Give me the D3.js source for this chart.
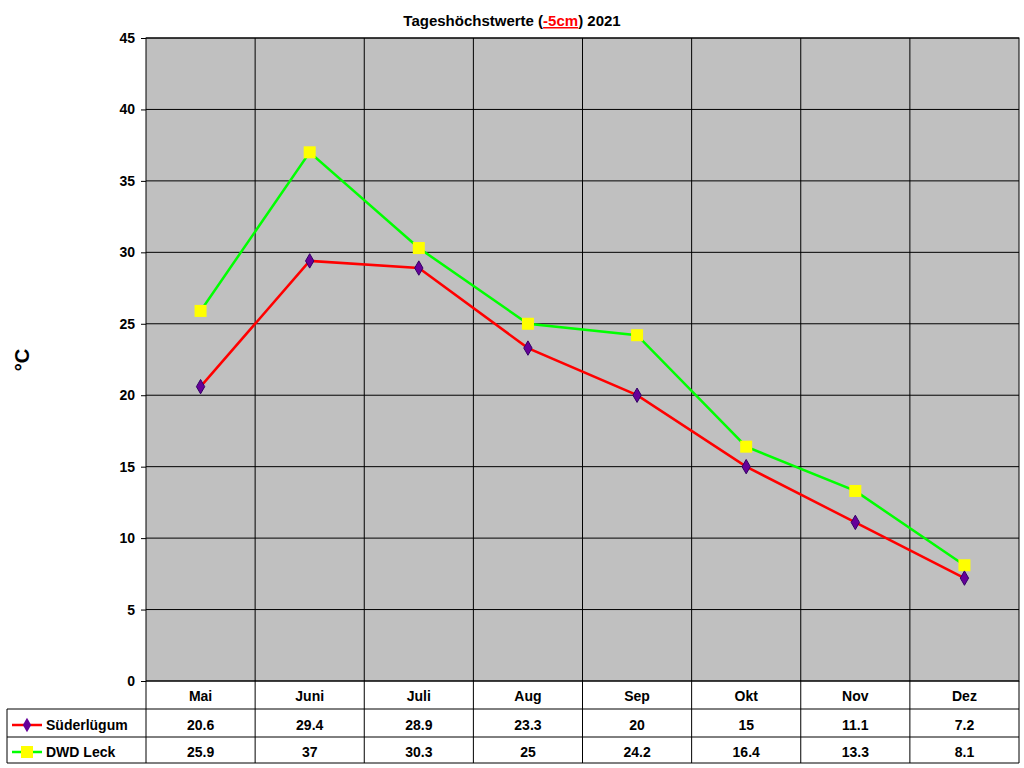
<!DOCTYPE html>
<html><head><meta charset="utf-8">
<script src="https://cdn.jsdelivr.net/npm/d3@7"></script>
<style>body{margin:0;background:#fff}text{font-family:Arial,"Liberation Sans",sans-serif;font-weight:bold}</style>
</head><body>
<svg id="chart" width="1024" height="768"></svg>
<script>
// data
const months = ["Mai","Juni","Juli","Aug","Sep","Okt","Nov","Dez"];
const suederluegum = [20.6, 29.4, 28.9, 23.3, 20, 15, 11.1, 7.2];
const dwdLeck = [25.9, 37, 30.3, 25, 24.2, 16.4, 13.3, 8.1];
const yTicks = [0,5,10,15,20,25,30,35,40,45];

const svg = d3.select("#chart");
const plotLeft = 146, plotRight = 1019, plotTop = 38, plotBottom = 681;

const x = d3.scaleBand().domain(months).range([plotLeft, plotRight]);
const y = d3.scaleLinear().domain([0, 45]).range([plotBottom, plotTop]);

// plot background
svg.append("rect").attr("x", plotLeft).attr("y", plotTop)
  .attr("width", plotRight - plotLeft).attr("height", plotBottom - plotTop)
  .attr("fill", "#c0c0c0").attr("stroke", "#000");

// gridlines
svg.selectAll(".hg").data(yTicks).enter().append("line")
  .attr("x1", plotLeft).attr("x2", plotRight)
  .attr("y1", d => y(d)).attr("y2", d => y(d)).attr("stroke", "#000");
svg.selectAll(".vg").data(months.slice(1)).enter().append("line")
  .attr("x1", d => x(d)).attr("x2", d => x(d))
  .attr("y1", plotTop).attr("y2", plotBottom).attr("stroke", "#000");

// y axis
const yAxis = svg.append("g").attr("transform", `translate(${plotLeft},0)`)
  .call(d3.axisLeft(y).tickValues(yTicks).tickSize(5).tickPadding(6));
yAxis.select(".domain").remove();
yAxis.selectAll("text").attr("font-size", 14).attr("font-weight", "bold")
  .attr("font-family", "Arial, Liberation Sans, sans-serif").attr("fill", "#000");

svg.append("text").attr("transform", "translate(29,360) rotate(-90)")
  .attr("text-anchor", "middle").attr("font-size", 20).text("°C");

// title
const title = svg.append("text").attr("x", 512).attr("y", 26)
  .attr("text-anchor", "middle").attr("font-size", 15);
title.append("tspan").text("Tageshöchstwerte (");
title.append("tspan").attr("fill", "#ff0000").attr("text-decoration", "underline").text("-5cm");
title.append("tspan").text(") 2021");

// lines
const cx = d => x(d) + x.bandwidth() / 2;
const line = vals => d3.line().x((d, i) => cx(months[i])).y(d => y(d))(vals);

svg.append("path").attr("d", line(dwdLeck)).attr("fill", "none")
  .attr("stroke", "#00ff00").attr("stroke-width", 2.5);
svg.append("path").attr("d", line(suederluegum)).attr("fill", "none")
  .attr("stroke", "#ff0000").attr("stroke-width", 2.5);

svg.selectAll(".sq").data(dwdLeck).enter().append("rect")
  .attr("x", (d, i) => cx(months[i]) - 6).attr("y", d => y(d) - 6)
  .attr("width", 12).attr("height", 12).attr("fill", "#ffff00");
svg.selectAll(".dm").data(suederluegum).enter().append("path")
  .attr("d", d3.symbol(d3.symbolDiamond, 60)())
  .attr("transform", (d, i) => `translate(${cx(months[i])},${y(d)})`)
  .attr("fill", "#660099").attr("stroke", "#330066");

// data table
const rowBottom = 763, tableLeft = 7;
[709, 737, 763].forEach(yy => svg.append("line")
  .attr("x1", tableLeft).attr("x2", plotRight).attr("y1", yy).attr("y2", yy).attr("stroke", "#000"));
svg.append("line").attr("x1", tableLeft).attr("x2", tableLeft)
  .attr("y1", 709).attr("y2", rowBottom).attr("stroke", "#000");
svg.append("line").attr("x1", plotLeft).attr("x2", plotLeft)
  .attr("y1", plotBottom).attr("y2", rowBottom).attr("stroke", "#000");
months.forEach(m => svg.append("line").attr("x1", x(m) + x.bandwidth()).attr("x2", x(m) + x.bandwidth())
  .attr("y1", plotBottom).attr("y2", rowBottom).attr("stroke", "#000"));

svg.selectAll(".ml").data(months).enter().append("text")
  .attr("x", d => cx(d)).attr("y", 701).attr("text-anchor", "middle")
  .attr("font-size", 14).text(d => d);

const rows = [
  {name: "Süderlügum", vals: suederluegum, color: "#ff0000", y: 730},
  {name: "DWD Leck", vals: dwdLeck, color: "#00ff00", y: 757}
];
rows.forEach((r, ri) => {
  svg.selectAll(".v" + ri).data(r.vals).enter().append("text")
    .attr("x", (d, i) => cx(months[i])).attr("y", r.y).attr("text-anchor", "middle")
    .attr("font-size", 14).text(d => d);
  svg.append("line").attr("x1", 12).attr("x2", 42).attr("y1", r.y - 5).attr("y2", r.y - 5)
    .attr("stroke", r.color).attr("stroke-width", 2.5);
  if (ri === 0) {
    svg.append("path").attr("d", d3.symbol(d3.symbolDiamond, 60)())
      .attr("transform", `translate(27,${r.y - 5})`).attr("fill", "#660099");
  } else {
    svg.append("rect").attr("x", 21).attr("y", r.y - 11).attr("width", 12).attr("height", 12)
      .attr("fill", "#ffff00");
  }
  svg.append("text").attr("x", 46).attr("y", r.y).attr("font-size", 14).text(r.name);
});
</script>
</body></html>
